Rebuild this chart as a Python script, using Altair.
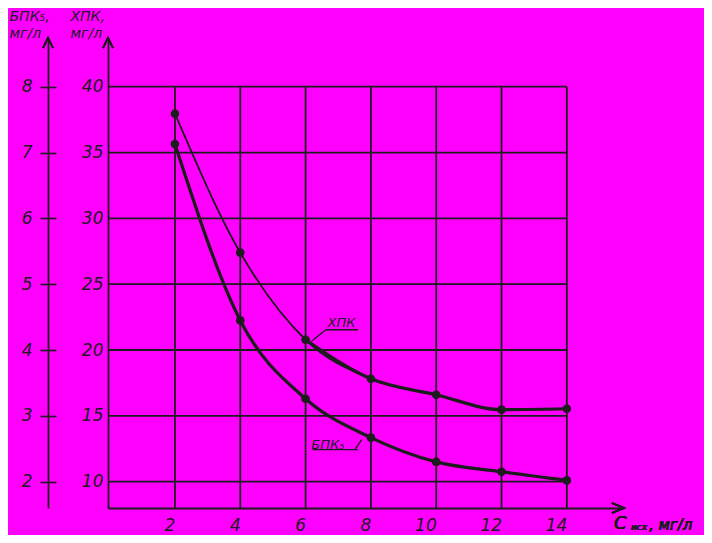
import altair as alt
import pandas as pd

# ---- data ----
x_vals = [2, 4, 6, 8, 10, 12, 14]
cod_vals = [37.95, 27.4, 20.78, 17.82, 16.6, 15.47, 15.54]     # ХПК, мг/л
bod_vals = [7.13, 4.45, 3.26, 2.67, 2.30, 2.15, 2.02]          # БПК5, мг/л
cod_ticks = [10, 15, 20, 25, 30, 35, 40]
bod_ticks = [2, 3, 4, 5, 6, 7, 8]
x_ticks = [2, 4, 6, 8, 10, 12, 14]

ann_labels = ["ХПК", "БПК₅"]
ann_x = [7.10, 6.68]
ann_y = [22.05, 12.81]
seg_x = [6.62, 6.62, 6.22, 7.51]
seg_y = [21.54, 21.54, 12.43, 12.43]
seg_x2 = [7.60, 6.18, 7.60, 7.72]
seg_y2 = [21.54, 20.66, 12.43, 13.19]

# ---- style ----
INK = "#1c1c1c"
BG = "#ff00ff"
FONT = "DejaVu Sans"
W, H = 516, 470
X_DOM = [-0.05, 15.75]
COD_DOM = [8.0, 43.7]
BOD_DOM = [COD_DOM[0] / 5, COD_DOM[1] / 5]

df = pd.DataFrame({"x": x_vals, "cod": cod_vals, "bod": bod_vals})
hgrid_df = pd.DataFrame({"v": cod_ticks, "x0": X_DOM[0], "x1": 14})
vgrid_df = pd.DataFrame({"v": x_ticks, "y0": COD_DOM[0], "y1": 40})
ann_df = pd.DataFrame({"x": ann_x, "y": ann_y, "t": ann_labels})
seg_df = pd.DataFrame({"x": seg_x, "y": seg_y, "x2": seg_x2, "y2": seg_y2})

xs = alt.Scale(domain=X_DOM, nice=False, zero=False)
ys_cod = alt.Scale(domain=COD_DOM, nice=False, zero=False)
ys_bod = alt.Scale(domain=BOD_DOM, nice=False, zero=False)

lab = dict(labelFont=FONT, labelFontSize=17, labelFontStyle="italic",
           labelColor=INK, labelFontWeight="normal")
ttl = dict(titleFont=FONT, titleFontSize=14, titleFontStyle="italic",
           titleFontWeight="normal", titleColor=INK, titleAngle=0,
           titleAlign="left", titleBaseline="top", titleLineHeight=17)

x_axis = alt.Axis(values=x_ticks, orient="bottom", domain=True, domainColor=INK,
                  domainWidth=1.8, ticks=False, grid=False, labelPadding=9,
                  labelAlign="right", title=None, **lab)
cod_axis = alt.Axis(values=cod_ticks, orient="left", domain=True, domainColor=INK,
                    domainWidth=1.8, ticks=False, grid=False, labelPadding=5,
                    title=["ХПК,", "мг/л"], titleX=-38, titleY=-29, **lab, **ttl)
bod_axis = alt.Axis(values=bod_ticks, orient="left", offset=60, domain=True,
                    domainColor=INK, domainWidth=1.8, ticks=True, tickSize=8,
                    tickColor=INK, tickWidth=1.6, grid=False, labelPadding=8,
                    title=["БПК₅,", "мг/л"], titleX=-39, titleY=-29, **lab, **ttl)
bod_axis_inner = alt.Axis(values=bod_ticks, orient="left", offset=52, domain=False,
                          ticks=True, tickSize=8, tickColor=INK, tickWidth=1.6,
                          labels=False, grid=False, title=None)

X = lambda f: alt.X(f, scale=xs, axis=x_axis)

hgrid = alt.Chart(hgrid_df).mark_rule(color=INK, strokeWidth=1.8).encode(
    x=X("x0:Q"), x2="x1:Q", y=alt.Y("v:Q", scale=ys_cod, axis=cod_axis))
vgrid = alt.Chart(vgrid_df).mark_rule(color=INK, strokeWidth=1.8).encode(
    x=X("v:Q"), y=alt.Y("y0:Q", scale=ys_cod, axis=cod_axis), y2="y1:Q")

cod_line = alt.Chart(df).mark_line(color=INK, strokeWidth=1.8, interpolate="monotone").encode(
    x=X("x:Q"), y=alt.Y("cod:Q", scale=ys_cod, axis=cod_axis))
cod_line_thick = alt.Chart(df).transform_filter("datum.x >= 6").mark_line(
    color=INK, strokeWidth=3.2, interpolate="monotone").encode(
    x=X("x:Q"), y=alt.Y("cod:Q", scale=ys_cod, axis=cod_axis))
cod_pts = alt.Chart(df).mark_point(filled=True, color=INK, size=75, opacity=1).encode(
    x=X("x:Q"), y=alt.Y("cod:Q", scale=ys_cod, axis=cod_axis))

segs = alt.Chart(seg_df).mark_rule(color=INK, strokeWidth=1.3).encode(
    x=X("x:Q"), x2="x2:Q", y=alt.Y("y:Q", scale=ys_cod, axis=cod_axis), y2="y2:Q")
ann = alt.Chart(ann_df).mark_text(font=FONT, fontSize=13, fontStyle="italic",
                                  color=INK, align="center", baseline="middle").encode(
    x=X("x:Q"), y=alt.Y("y:Q", scale=ys_cod, axis=cod_axis), text="t:N")

UP = "M -0.5 1 L 0 0 L 0.5 1"
RIGHT = "M -1.2 -0.5 L 0 0 L -1.2 0.5"
arrow_style = dict(shape=UP, size=400, filled=False, stroke=INK, strokeWidth=1.5, opacity=1)
arr_cod = alt.Chart(df).mark_point(**arrow_style).encode(x=alt.value(0), y=alt.value(0))
arr_bod = alt.Chart(df).mark_point(**arrow_style).encode(x=alt.value(-60), y=alt.value(0))
arr_x = alt.Chart(df).mark_point(shape=RIGHT, size=400, filled=False, stroke=INK,
                                 strokeWidth=1.5, opacity=1).encode(
    x=alt.value(W), y=alt.value(H))

xt1 = alt.Chart(df).mark_text(text="С", font=FONT, fontSize=18, fontStyle="italic",
                              color=INK, align="left", baseline="alphabetic").encode(
    x=alt.value(W - 10), y=alt.value(H + 21))
xt2 = alt.Chart(df).mark_text(text="исх", font=FONT, fontSize=9, fontStyle="italic",
                              color=INK, align="left", baseline="alphabetic").encode(
    x=alt.value(W + 7), y=alt.value(H + 22))
xt3 = alt.Chart(df).mark_text(text=", мг/л", font=FONT, fontSize=15, fontStyle="italic",
                              color=INK, align="left", baseline="alphabetic").encode(
    x=alt.value(W + 25), y=alt.value(H + 22))

layer_cod = alt.layer(hgrid, vgrid, cod_line, cod_line_thick, cod_pts, segs, ann,
                      arr_cod, arr_bod, arr_x, xt1, xt2, xt3)

bod_line = alt.Chart(df).mark_line(color=INK, strokeWidth=3.2, interpolate="monotone").encode(
    x=X("x:Q"), y=alt.Y("bod:Q", scale=ys_bod, axis=bod_axis))
bod_pts = alt.Chart(df).mark_point(filled=True, color=INK, size=75, opacity=1).encode(
    x=X("x:Q"), y=alt.Y("bod:Q", scale=ys_bod, axis=bod_axis_inner))

chart = alt.layer(layer_cod, bod_line, bod_pts).resolve_scale(y="independent").properties(
    width=W, height=H, background=BG,
    autosize=alt.AutoSizeParams(type="none"),
    padding={"left": 100, "top": 30, "right": 80, "bottom": 27},
).configure_view(stroke=None)

chart.save("out.html", embed_options={"renderer": "svg", "actions": False})
